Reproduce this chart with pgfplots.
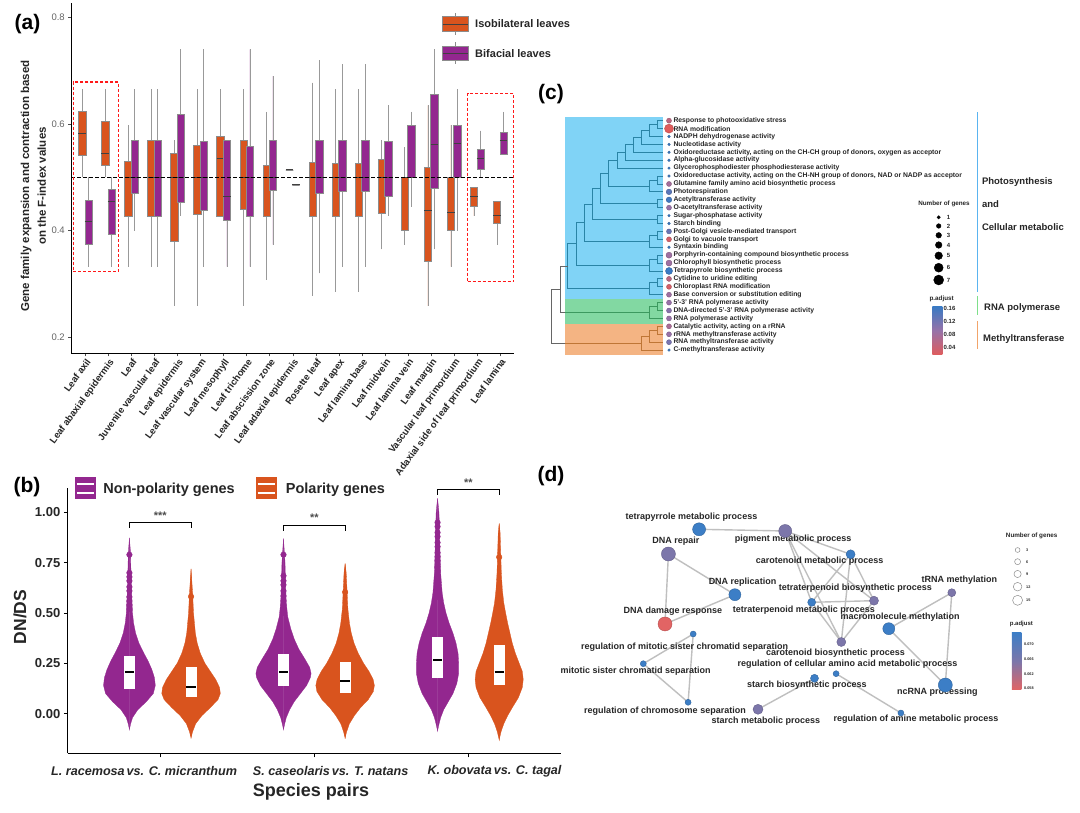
\documentclass[border=0pt]{standalone}
\usepackage{fontspec}
\setmainfont{Liberation Sans}
\usepackage{pgfplots}
\pgfplotsset{compat=1.18}
\usepackage{pgfplotstable}
\usepgfplotslibrary{statistics}
\definecolor{aor}{HTML}{D9541E}
\definecolor{apu}{HTML}{93278F}
\definecolor{cbg1}{HTML}{80D3F6}
\definecolor{cbg2}{HTML}{82D8A2}
\definecolor{cbg3}{HTML}{F4B483}
\definecolor{ct1}{HTML}{2A84A6}
\definecolor{ct2}{HTML}{3C995F}
\definecolor{ct3}{HTML}{BF7636}
\definecolor{ctg}{HTML}{666666}
\definecolor{cl1}{HTML}{5AB4F0}
\definecolor{cl2}{HTML}{7EDF8A}
\definecolor{cl3}{HTML}{F2A46A}
\definecolor{pblue}{RGB}{58,122,195}
\definecolor{ppur}{RGB}{152,114,168}
\definecolor{pred}{RGB}{224,92,92}
\definecolor{dblue}{RGB}{60,126,198}
\definecolor{dpur}{RGB}{124,118,170}
\definecolor{dred}{RGB}{226,100,100}
\definecolor{txt}{HTML}{262626}
\newcommand\fs[1]{\fontsize{#1}{#1}\selectfont}
\newcommand\bx[7]{\addplot[fill=#1, draw=black!45, line width=0.5pt,
  boxplot prepared={draw position=#2, lower whisker=#3, lower quartile=#4,
  median=#5, upper quartile=#6, upper whisker=#7, box extend=0.32, whisker extend=0},
  boxplot/every median/.style={draw=black!75, line width=1pt},
  boxplot/every whisker/.style={draw=black!40, line width=0.7pt}] coordinates {};}

\pgfplotstableread{
y w
-0.078 0
-0.05 0.008
-0.02 0.02
0.02 0.055
0.06 0.11
0.10 0.155
0.14 0.168
0.18 0.162
0.22 0.145
0.26 0.122
0.30 0.094
0.35 0.062
0.40 0.040
0.45 0.027
0.50 0.020
0.60 0.014
0.70 0.010
0.80 0.007
0.873 0
}\vA
\pgfplotstableread{
y w
-0.12 0
-0.09 0.01
-0.05 0.03
-0.01 0.07
0.03 0.125
0.07 0.175
0.10 0.19
0.13 0.185
0.17 0.16
0.21 0.125
0.25 0.09
0.30 0.06
0.35 0.04
0.40 0.028
0.50 0.016
0.60 0.01
0.72 0
}\vB
\pgfplotstableread{
y w
-0.078 0
-0.05 0.008
-0.02 0.018
0.02 0.04
0.06 0.07
0.10 0.11
0.14 0.15
0.18 0.175
0.20 0.179
0.23 0.17
0.27 0.14
0.32 0.10
0.37 0.07
0.42 0.048
0.48 0.028
0.55 0.018
0.65 0.013
0.75 0.01
0.87 0
}\vC
\pgfplotstableread{
y w
-0.12 0
-0.09 0.01
-0.05 0.028
-0.01 0.06
0.03 0.10
0.07 0.15
0.11 0.183
0.14 0.19
0.17 0.182
0.21 0.155
0.25 0.12
0.30 0.085
0.35 0.058
0.40 0.04
0.45 0.028
0.52 0.018
0.62 0.012
0.70 0.007
0.745 0
}\vD
\pgfplotstableread{
y w
-0.085 0
-0.05 0.01
-0.02 0.02
0.02 0.04
0.06 0.07
0.10 0.10
0.15 0.125
0.20 0.137
0.25 0.137
0.30 0.133
0.35 0.12
0.40 0.10
0.45 0.075
0.50 0.055
0.55 0.04
0.60 0.03
0.70 0.02
0.80 0.016
0.90 0.013
1.00 0.009
1.07 0
}\vE
\pgfplotstableread{
y w
-0.13 0
-0.09 0.012
-0.05 0.03
-0.01 0.055
0.03 0.085
0.08 0.125
0.13 0.15
0.17 0.156
0.21 0.15
0.25 0.13
0.30 0.105
0.35 0.085
0.40 0.07
0.45 0.055
0.50 0.042
0.55 0.03
0.62 0.02
0.70 0.014
0.80 0.01
0.90 0.006
0.945 0
}\vF

\begin{document}
\begin{tikzpicture}[x=1pt,y=1pt]
\useasboundingbox (0,0) rectangle (1080,813);
\fill[white] (0,0) rectangle (1080,813);

%================ PANEL A =================
\begin{axis}[
  at={(71.3pt,459.7pt)}, anchor=south west, scale only axis,
  width=442.8pt, height=350.3pt,
  xmin=-0.61, xmax=18.6, ymin=0.17, ymax=0.827, enlargelimits=false,
  axis lines*=left, axis line style={black, line width=1pt},
  xtick={0,...,18},
  xticklabels={Leaf axil, Leaf abaxial epidermis, Leaf, Juvenile vascular leaf, Leaf epidermis, Leaf vascular system, Leaf mesophyll, Leaf trichome, Leaf abscission zone, Leaf adaxial epidermis, Rosette leaf, Leaf apex, Leaf lamina base, Leaf midvein, Leaf lamina vein, Leaf margin, Vascular leaf primordium, Adaxial side of leaf primordium, Leaf lamina},
  x tick label style={rotate=54, anchor=north east, font=\bfseries\fs{9.5}, inner sep=1pt, text=txt},
  ytick={0.2,0.4,0.6,0.8}, yticklabels={0.2,0.4,0.6,0.8},
  y tick label style={font=\fs{9.5}, text=black!60},
  tick style={black!70, line width=0.6pt}, major tick length=3pt, tick align=outside,
  clip=false, boxplot/draw direction=y]
\bx{aor}{-0.14}{0.5}{0.541}{0.5825}{0.624}{0.665}
\bx{apu}{0.14}{0.3325}{0.374}{0.417}{0.4575}{0.5}
\bx{aor}{0.86}{0.5}{0.5225}{0.545}{0.606}{0.665}
\bx{apu}{1.14}{0.3325}{0.393}{0.455}{0.477}{0.5}
\bx{aor}{1.86}{0.3325}{0.4275}{0.5}{0.53}{0.598}
\bx{apu}{2.14}{0.4}{0.47}{0.5}{0.57}{0.665}
\bx{aor}{2.86}{0.3325}{0.4275}{0.5}{0.57}{0.665}
\bx{apu}{3.14}{0.3325}{0.4275}{0.5}{0.57}{0.665}
\bx{aor}{3.86}{0.259}{0.38}{0.5}{0.545}{0.57}
\bx{apu}{4.14}{0.4275}{0.454}{0.5}{0.618}{0.74}
\bx{aor}{4.86}{0.259}{0.43}{0.5}{0.56}{0.665}
\bx{apu}{5.14}{0.3325}{0.4375}{0.5}{0.568}{0.74}
\bx{aor}{5.86}{0.4275}{0.4275}{0.535}{0.5775}{0.665}
\bx{apu}{6.14}{0.3325}{0.42}{0.464}{0.57}{0.57}
\bx{aor}{6.86}{0.259}{0.44}{0.5}{0.57}{0.665}
\bx{apu}{7.14}{0.3325}{0.4275}{0.5}{0.5575}{0.74}
\bx{aor}{7.86}{0.3075}{0.4275}{0.5}{0.5225}{0.623}
\bx{apu}{8.14}{0.374}{0.475}{0.5}{0.57}{0.69}
\bx{aor}{8.86}{0.514}{0.514}{0.514}{0.514}{0.514}
\bx{apu}{9.14}{0.486}{0.486}{0.486}{0.486}{0.486}
\bx{aor}{9.86}{0.278}{0.4275}{0.5}{0.528}{0.6775}
\bx{apu}{10.14}{0.32}{0.47}{0.5}{0.57}{0.72}
\bx{aor}{10.86}{0.2856}{0.4275}{0.5}{0.526}{0.665}
\bx{apu}{11.14}{0.3325}{0.473}{0.5}{0.57}{0.7125}
\bx{aor}{11.86}{0.2856}{0.4275}{0.5}{0.526}{0.665}
\bx{apu}{12.14}{0.3325}{0.473}{0.5}{0.57}{0.7125}
\bx{aor}{12.86}{0.365}{0.4325}{0.5}{0.534}{0.57}
\bx{apu}{13.14}{0.4275}{0.464}{0.5}{0.567}{0.635}
\bx{aor}{13.86}{0.374}{0.4}{0.5}{0.5}{0.556}
\bx{apu}{14.14}{0.445}{0.5}{0.5}{0.598}{0.623}
\bx{aor}{14.86}{0.259}{0.343}{0.437}{0.519}{0.635}
\bx{apu}{15.14}{0.365}{0.479}{0.562}{0.655}{0.74}
\bx{aor}{15.86}{0.3325}{0.4}{0.434}{0.5}{0.598}
\bx{apu}{16.14}{0.4}{0.5}{0.564}{0.598}{0.665}
\bx{aor}{16.86}{0.4275}{0.446}{0.464}{0.481}{0.481}
\bx{apu}{17.14}{0.5}{0.516}{0.535}{0.5525}{0.5875}
\bx{aor}{17.86}{0.374}{0.414}{0.4275}{0.455}{0.455}
\bx{apu}{18.14}{0.543}{0.543}{0.57}{0.584}{0.623}
\addplot[black, line width=0.9pt, dash pattern=on 4pt off 2pt] coordinates {(-0.61,0.5) (18.6,0.5)};
\addplot[red!90, line width=1.2pt, dash pattern=on 3pt off 2pt] coordinates {(-0.52,0.324) (1.45,0.324) (1.45,0.679) (-0.52,0.679) (-0.52,0.324)};
\addplot[red!90, line width=1.2pt, dash pattern=on 3pt off 2pt] coordinates {(16.58,0.304) (18.57,0.304) (18.57,0.658) (16.58,0.658) (16.58,0.304)};
\end{axis}
% legend a
\draw[black!45, line width=0.6pt] (455.5,796.3) -- (455.5,799.7) (455.5,781.3) -- (455.5,778);
\filldraw[fill=aor, draw=black!45, line width=0.6pt] (442.7,781.3) rectangle (468.3,796.3);
\draw[black!75, line width=0.9pt] (442.7,789) -- (468.3,789);
\draw[black!45, line width=0.6pt] (455.5,767) -- (455.5,770.5) (455.5,752.3) -- (455.5,749);
\filldraw[fill=apu, draw=black!45, line width=0.6pt] (442.7,752.3) rectangle (468.3,767);
\draw[black!75, line width=0.9pt] (442.7,759.7) -- (468.3,759.7);
\node[anchor=west, font=\bfseries\fs{11}, text=txt] at (471.7,789) {Isobilateral leaves};
\node[anchor=west, font=\bfseries\fs{11}, text=txt] at (471.7,759.7) {Bifacial leaves};
\node[rotate=90, align=center, font=\bfseries\fontsize{11.5}{16.7}\selectfont, text=txt] at (33.4,627) {Gene family expansion and contraction based\\on the F-index values};
\node[font=\bfseries\fs{21}] at (27.5,789) {(a)};

%================ PANEL B =================
\begin{axis}[
  at={(67.8pt,59.7pt)}, anchor=south west, scale only axis,
  width=493pt, height=265pt,
  xmin=0.4, xmax=3.6, ymin=-0.197, ymax=1.12, enlargelimits=false,
  axis lines*=left, axis line style={black, line width=1.2pt},
  xtick={1,2,3}, xticklabels={,,},
  ytick={0,0.25,0.5,0.75,1}, yticklabels={0.00,0.25,0.50,0.75,1.00},
  y tick label style={font=\bfseries\fs{13}, text=txt},
  tick style={black, line width=0.8pt}, major tick length=4pt, tick align=outside,
  clip=false]
\addplot[fill=apu, draw=apu, line width=0.3pt] table[x expr=0.8-\thisrow{w}, y=y] {\vA} -- cycle;
\addplot[fill=apu, draw=apu, line width=0.3pt] table[x expr=0.8+\thisrow{w}, y=y] {\vA} -- cycle;
\addplot[fill=aor, draw=aor, line width=0.3pt] table[x expr=1.2-\thisrow{w}, y=y] {\vB} -- cycle;
\addplot[fill=aor, draw=aor, line width=0.3pt] table[x expr=1.2+\thisrow{w}, y=y] {\vB} -- cycle;
\addplot[fill=apu, draw=apu, line width=0.3pt] table[x expr=1.8-\thisrow{w}, y=y] {\vC} -- cycle;
\addplot[fill=apu, draw=apu, line width=0.3pt] table[x expr=1.8+\thisrow{w}, y=y] {\vC} -- cycle;
\addplot[fill=aor, draw=aor, line width=0.3pt] table[x expr=2.2-\thisrow{w}, y=y] {\vD} -- cycle;
\addplot[fill=aor, draw=aor, line width=0.3pt] table[x expr=2.2+\thisrow{w}, y=y] {\vD} -- cycle;
\addplot[fill=apu, draw=apu, line width=0.3pt] table[x expr=2.8-\thisrow{w}, y=y] {\vE} -- cycle;
\addplot[fill=apu, draw=apu, line width=0.3pt] table[x expr=2.8+\thisrow{w}, y=y] {\vE} -- cycle;
\addplot[fill=aor, draw=aor, line width=0.3pt] table[x expr=3.2-\thisrow{w}, y=y] {\vF} -- cycle;
\addplot[fill=aor, draw=aor, line width=0.3pt] table[x expr=3.2+\thisrow{w}, y=y] {\vF} -- cycle;
\addplot[only marks, mark=*, mark size=2.8pt, color=apu] coordinates {(0.8,0.52) (0.8,0.54) (0.8,0.56) (0.8,0.58) (0.8,0.61) (0.8,0.63) (0.8,0.66) (0.8,0.68) (0.8,0.70) (0.8,0.79)};
\addplot[only marks, mark=*, mark size=2.8pt, color=aor] coordinates {(1.2,0.582)};
\addplot[only marks, mark=*, mark size=2.8pt, color=apu] coordinates {(1.8,0.50) (1.8,0.52) (1.8,0.54) (1.8,0.56) (1.8,0.585) (1.8,0.61) (1.8,0.64) (1.8,0.66) (1.8,0.685) (1.8,0.79)};
\addplot[only marks, mark=*, mark size=2.8pt, color=aor] coordinates {(2.2,0.604)};
\addplot[only marks, mark=*, mark size=2.8pt, color=apu] coordinates {(2.8,0.58) (2.8,0.60) (2.8,0.62) (2.8,0.64) (2.8,0.66) (2.8,0.69) (2.8,0.71) (2.8,0.73) (2.8,0.76) (2.8,0.78) (2.8,0.80) (2.8,0.83) (2.8,0.85) (2.8,0.88) (2.8,0.90) (2.8,0.93) (2.8,0.95)};
\addplot[only marks, mark=*, mark size=2.8pt, color=aor] coordinates {(3.2,0.635) (3.2,0.778)};
\addplot[fill=white, draw=none] coordinates {(0.764,0.124) (0.836,0.124) (0.836,0.287) (0.764,0.287)} -- cycle;
\addplot[fill=white, draw=none] coordinates {(1.164,0.085) (1.236,0.085) (1.236,0.231) (1.164,0.231)} -- cycle;
\addplot[fill=white, draw=none] coordinates {(1.764,0.138) (1.836,0.138) (1.836,0.297) (1.764,0.297)} -- cycle;
\addplot[fill=white, draw=none] coordinates {(2.164,0.101) (2.236,0.101) (2.236,0.259) (2.164,0.259)} -- cycle;
\addplot[fill=white, draw=none] coordinates {(2.764,0.178) (2.836,0.178) (2.836,0.382) (2.764,0.382)} -- cycle;
\addplot[fill=white, draw=none] coordinates {(3.164,0.141) (3.236,0.141) (3.236,0.34) (3.164,0.34)} -- cycle;
\addplot[black, line width=2pt] coordinates {(0.77,0.206) (0.83,0.206)};
\addplot[black, line width=2pt] coordinates {(1.17,0.133) (1.23,0.133)};
\addplot[black, line width=2pt] coordinates {(1.77,0.207) (1.83,0.207)};
\addplot[black, line width=2pt] coordinates {(2.17,0.164) (2.23,0.164)};
\addplot[black, line width=2pt] coordinates {(2.77,0.269) (2.83,0.269)};
\addplot[black, line width=2pt] coordinates {(3.17,0.207) (3.23,0.207)};
\addplot[black, line width=0.9pt] coordinates {(0.8,0.925) (0.8,0.95) (1.2,0.95) (1.2,0.925)};
\addplot[black, line width=0.9pt] coordinates {(1.8,0.91) (1.8,0.937) (2.2,0.937) (2.2,0.91)};
\addplot[black, line width=0.9pt] coordinates {(2.8,1.088) (2.8,1.113) (3.2,1.113) (3.2,1.088)};
\node[font=\bfseries\fs{11}, text=black!70] at (axis cs:1.0,0.985) {***};
\node[font=\bfseries\fs{11}, text=black!70] at (axis cs:2.0,0.972) {**};
\node[font=\bfseries\fs{11}, text=black!70] at (axis cs:3.0,1.148) {**};
\end{axis}
% legend b and labels
\fill[apu] (74.7,313.7) rectangle (96.4,335.7);
\draw[white, line width=1.7pt] (76.8,329.2) -- (94.3,329.2) (76.8,320.2) -- (94.3,320.2);
\node[anchor=west, font=\bfseries\fs{14.5}, text=txt] at (99.9,323) {Non-polarity genes};
\fill[aor] (255.5,313.7) rectangle (277.2,335.7);
\draw[white, line width=1.7pt] (257.6,329.2) -- (275.1,329.2) (257.6,320.2) -- (275.1,320.2);
\node[anchor=west, font=\bfseries\fs{14.5}, text=txt] at (282.4,323) {Polarity genes};
\node[rotate=90, font=\bfseries\fs{17.5}, text=txt] at (20,196) {DN/DS};
\node[anchor=west, inner sep=0pt, font=\bfseries\itshape\fs{12.6}, text=txt] at (51,42) {L. racemosa\hspace{0.15em}vs. C. micranthum};
\node[anchor=west, inner sep=0pt, font=\bfseries\itshape\fs{12.6}, text=txt] at (252.7,42) {S. caseolaris\hspace{0.15em}vs. T. natans};
\node[anchor=west, inner sep=0pt, font=\bfseries\itshape\fs{12.6}, text=txt] at (427.3,42) {K. obovata\hspace{0.15em}vs. C. tagal};
\node[font=\bfseries\fs{18}, text=txt] at (311,21.3) {Species pairs};
\node[font=\bfseries\fs{21}] at (27,326) {(b)};

%================ PANEL C =================
\begin{axis}[
  at={(540pt,433pt)}, anchor=south west, scale only axis,
  width=540pt, height=300pt, hide axis, enlargelimits=false,
  xmin=540, xmax=1080, ymin=80, ymax=380, y dir=reverse, clip=false,
  colormap={padj}{rgb255=(224,92,92) rgb255=(152,114,168) rgb255=(58,122,195)},
  point meta min=0.04, point meta max=0.16]
\addplot[fill=cbg1, draw=none] coordinates {(565,117.3) (662.5,117.3) (662.5,299.3) (565,299.3)} -- cycle;
\addplot[fill=cbg2, draw=none] coordinates {(565,299.3) (662.5,299.3) (662.5,324) (565,324)} -- cycle;
\addplot[fill=cbg3, draw=none] coordinates {(565,324) (662.5,324) (662.5,355.3) (565,355.3)} -- cycle;
\addplot[ct1, line width=0.9pt] coordinates {(663,120.70) (657.5,120.70) (657.5,128.61) (663,128.61)};
\addplot[ct1, line width=0.9pt] coordinates {(657.5,124.66) (649.5,124.66) (649.5,136.52) (663,136.52)};
\addplot[ct1, line width=0.9pt] coordinates {(649.5,130.59) (641.5,130.59) (641.5,144.43) (663,144.43)};
\addplot[ct1, line width=0.9pt] coordinates {(641.5,137.51) (633.3,137.51) (633.3,152.34) (663,152.34)};
\addplot[ct1, line width=0.9pt] coordinates {(633.3,144.93) (625.2,144.93) (625.2,160.25) (663,160.25)};
\addplot[ct1, line width=0.9pt] coordinates {(625.2,152.59) (617,152.59) (617,168.16) (663,168.16)};
\addplot[ct1, line width=0.9pt] coordinates {(663,176.07) (657.5,176.07) (657.5,183.98) (663,183.98)};
\addplot[ct1, line width=0.9pt] coordinates {(657.5,180.03) (649.5,180.03) (649.5,191.89) (663,191.89)};
\addplot[ct1, line width=0.9pt] coordinates {(617,160.38) (608.7,160.38) (608.7,185.96) (649.5,185.96)};
\addplot[ct1, line width=0.9pt] coordinates {(663,199.80) (657.5,199.80) (657.5,207.71) (663,207.71)};
\addplot[ct1, line width=0.9pt] coordinates {(608.7,173.17) (600.3,173.17) (600.3,203.76) (657.5,203.76)};
\addplot[ct1, line width=0.9pt] coordinates {(663,215.62) (657.5,215.62) (657.5,223.53) (663,223.53)};
\addplot[ct1, line width=0.9pt] coordinates {(600.3,188.46) (592.2,188.46) (592.2,219.58) (657.5,219.58)};
\addplot[ct1, line width=0.9pt] coordinates {(663,231.44) (657.5,231.44) (657.5,239.35) (663,239.35)};
\addplot[ct1, line width=0.9pt] coordinates {(657.5,235.40) (649.5,235.40) (649.5,247.26) (663,247.26)};
\addplot[ct1, line width=0.9pt] coordinates {(592.2,204.02) (584.6,204.02) (584.6,241.33) (649.5,241.33)};
\addplot[ct1, line width=0.9pt] coordinates {(663,255.17) (657.5,255.17) (657.5,263.08) (663,263.08)};
\addplot[ct1, line width=0.9pt] coordinates {(657.5,259.13) (649.5,259.13) (649.5,270.99) (663,270.99)};
\addplot[ct1, line width=0.9pt] coordinates {(584.6,222.67) (576.3,222.67) (576.3,265.06) (649.5,265.06)};
\addplot[ct1, line width=0.9pt] coordinates {(663,278.90) (657.5,278.90) (657.5,286.81) (663,286.81)};
\addplot[ct1, line width=0.9pt] coordinates {(657.5,282.86) (649.5,282.86) (649.5,294.72) (663,294.72)};
\addplot[ct1, line width=0.9pt] coordinates {(576.3,243.87) (567.5,243.87) (567.5,288.79) (649.5,288.79)};
\addplot[ct2, line width=0.9pt] coordinates {(663,302.63) (657.5,302.63) (657.5,310.54) (663,310.54)};
\addplot[ct2, line width=0.9pt] coordinates {(657.5,306.59) (649.5,306.59) (649.5,318.45) (663,318.45)};
\addplot[ct3, line width=0.9pt] coordinates {(663,326.36) (657.5,326.36) (657.5,334.27) (663,334.27)};
\addplot[ct3, line width=0.9pt] coordinates {(657.5,330.32) (649.5,330.32) (649.5,342.18) (663,342.18)};
\addplot[ct3, line width=0.9pt] coordinates {(649.5,336.25) (641.5,336.25) (641.5,350.09) (663,350.09)};
\addplot[ctg, line width=0.9pt] coordinates {(567.5,266.33) (560,266.33) (560,312.52) (565,312.52)};
\addplot[ct2, line width=0.9pt] coordinates {(565,312.52) (649.5,312.52)};
\addplot[ctg, line width=0.9pt] coordinates {(560,289.43) (551.7,289.43) (551.7,343.17) (565,343.17)};
\addplot[ct3, line width=0.9pt] coordinates {(565,343.17) (641.5,343.17)};
\addplot[scatter, only marks, mark=*, scatter src=explicit,
  visualization depends on={\thisrow{r} \as \rr},
  scatter/@pre marker code/.append style={/tikz/mark size=\rr}]
  table[x=x, y=y, meta=p] {
x y r p
669 120.70 2.5 0.07
669 128.61 4.5 0.04
669 136.52 1.3 0.16
669 144.43 1.3 0.16
669 152.34 1.3 0.16
669 160.25 1.3 0.16
669 168.16 1.3 0.16
669 176.07 1.3 0.16
669 183.98 2.5 0.09
669 191.89 2.8 0.14
669 199.80 2.8 0.155
669 207.71 2.5 0.10
669 215.62 1.3 0.16
669 223.53 1.3 0.16
669 231.44 2.5 0.13
669 239.35 2.5 0.05
669 247.26 1.3 0.16
669 255.17 3.0 0.095
669 263.08 3.0 0.095
669 270.99 3.5 0.16
669 278.90 2.5 0.07
669 286.81 2.5 0.05
669 294.72 2.5 0.095
669 302.63 2.5 0.10
669 310.54 2.5 0.11
669 318.45 2.5 0.10
669 326.36 2.5 0.085
669 334.27 2.5 0.10
669 342.18 2.5 0.12
669 350.09 1.3 0.16
};
\addplot[only marks, mark=*, black, mark size=1.7pt] coordinates {(938.7,217.3)};
\addplot[only marks, mark=*, black, mark size=2.3pt] coordinates {(938.7,226.0)};
\addplot[only marks, mark=*, black, mark size=2.8pt] coordinates {(938.7,235.3)};
\addplot[only marks, mark=*, black, mark size=3.3pt] coordinates {(938.7,245.0)};
\addplot[only marks, mark=*, black, mark size=3.8pt] coordinates {(938.7,255.7)};
\addplot[only marks, mark=*, black, mark size=4.5pt] coordinates {(938.7,267.7)};
\addplot[only marks, mark=*, black, mark size=5.0pt] coordinates {(938.7,280.0)};
\begin{scope}[every node/.style={anchor=west, font=\bfseries\fs{6.8}, text=txt, inner sep=0pt}]
\node at (axis cs:673.3,120.70) {Response to photooxidative stress};
\node at (axis cs:673.3,128.61) {RNA modification};
\node at (axis cs:673.3,136.52) {NADPH dehydrogenase activity};
\node at (axis cs:673.3,144.43) {Nucleotidase activity};
\node at (axis cs:673.3,152.34) {Oxidoreductase activity, acting on the CH-CH group of donors, oxygen as acceptor};
\node at (axis cs:673.3,160.25) {Alpha-glucosidase activity};
\node at (axis cs:673.3,168.16) {Glycerophosphodiester phosphodiesterase activity};
\node at (axis cs:673.3,176.07) {Oxidoreductase activity, acting on the CH-NH group of donors, NAD or NADP as acceptor};
\node at (axis cs:673.3,183.98) {Glutamine family amino acid biosynthetic process};
\node at (axis cs:673.3,191.89) {Photorespiration};
\node at (axis cs:673.3,199.80) {Acetyltransferase activity};
\node at (axis cs:673.3,207.71) {O-acetyltransferase activity};
\node at (axis cs:673.3,215.62) {Sugar-phosphatase activity};
\node at (axis cs:673.3,223.53) {Starch binding};
\node at (axis cs:673.3,231.44) {Post-Golgi vesicle-mediated transport};
\node at (axis cs:673.3,239.35) {Golgi to vacuole transport};
\node at (axis cs:673.3,247.26) {Syntaxin binding};
\node at (axis cs:673.3,255.17) {Porphyrin-containing compound biosynthetic process};
\node at (axis cs:673.3,263.08) {Chlorophyll biosynthetic process};
\node at (axis cs:673.3,270.99) {Tetrapyrrole biosynthetic process};
\node at (axis cs:673.3,278.90) {Cytidine to uridine editing};
\node at (axis cs:673.3,286.81) {Chloroplast RNA modification};
\node at (axis cs:673.3,294.72) {Base conversion or substitution editing};
\node at (axis cs:673.3,302.63) {5'-3' RNA polymerase activity};
\node at (axis cs:673.3,310.54) {DNA-directed 5'-3' RNA polymerase activity};
\node at (axis cs:673.3,318.45) {RNA polymerase activity};
\node at (axis cs:673.3,326.36) {Catalytic activity, acting on a rRNA};
\node at (axis cs:673.3,334.27) {rRNA methyltransferase activity};
\node at (axis cs:673.3,342.18) {RNA methyltransferase activity};
\node at (axis cs:673.3,350.09) {C-methyltransferase activity};
\end{scope}
\begin{scope}[every node/.style={anchor=west, font=\bfseries\fs{6}, text=txt, inner sep=0pt}]
\node at (axis cs:946.7,217.3) {1};
\node at (axis cs:946.7,226.0) {2};
\node at (axis cs:946.7,235.3) {3};
\node at (axis cs:946.7,245.0) {4};
\node at (axis cs:946.7,255.7) {5};
\node at (axis cs:946.7,267.7) {6};
\node at (axis cs:946.7,280.0) {7};
\node at (axis cs:943.5,308.3) {0.16};
\node at (axis cs:943.5,321.0) {0.12};
\node at (axis cs:943.5,334.0) {0.08};
\node at (axis cs:943.5,347.3) {0.04};
\end{scope}
\node[font=\bfseries\fs{6.3}, text=txt] at (axis cs:944,204.3) {Number of genes};
\node[font=\bfseries\fs{6.3}, text=txt] at (axis cs:941.7,299.3) {p.adjust};
\addplot[cl1, line width=1.6pt] coordinates {(977.3,112.3) (977.3,291.7)};
\addplot[cl2, line width=1.6pt] coordinates {(977.3,296) (977.3,315)};
\addplot[cl3, line width=1.6pt] coordinates {(977.3,321.3) (977.3,349.3)};
\begin{scope}[every node/.style={anchor=west, font=\bfseries\fs{9.5}, text=txt, inner sep=0pt}]
\node at (axis cs:981.8,181.7) {Photosynthesis};
\node at (axis cs:981.8,204.3) {and};
\node at (axis cs:981.8,226.7) {Cellular metabolic};
\node at (axis cs:984,308.3) {RNA polymerase};
\node at (axis cs:983,338.7) {Methyltransferase};
\end{scope}
\end{axis}
\shade[top color=pblue, bottom color=pred, middle color=ppur] (932.3,458) rectangle (942.3,506.3);
\node[font=\bfseries\fs{21}] at (551,719) {(c)};

%================ PANEL D =================
\begin{axis}[
  at={(540pt,0pt)}, anchor=south west, scale only axis,
  width=540pt, height=353pt, hide axis, enlargelimits=false,
  xmin=540, xmax=1080, ymin=460, ymax=813, y dir=reverse, clip=false,
  colormap={dmap}{rgb255=(226,100,100) rgb255=(124,118,170) rgb255=(60,126,198)},
  point meta min=0.058, point meta max=0.074]
\addplot[black!25, line width=1.4pt] coordinates {(699.1,529.3) (785.2,531.0)};
\addplot[black!25, line width=1.4pt] coordinates {(668.4,554.0) (665.0,624.0)};
\addplot[black!25, line width=1.4pt] coordinates {(668.4,554.0) (734.9,594.7)};
\addplot[black!25, line width=1.4pt] coordinates {(734.9,594.7) (665.0,624.0)};
\addplot[black!25, line width=1.4pt] coordinates {(785.2,531.0) (850.6,554.3)};
\addplot[black!25, line width=1.4pt] coordinates {(785.2,531.0) (874.0,600.7)};
\addplot[black!25, line width=1.4pt] coordinates {(785.2,531.0) (811.7,602.3)};
\addplot[black!25, line width=1.4pt] coordinates {(785.2,531.0) (841.3,642.0)};
\addplot[black!25, line width=1.4pt] coordinates {(850.6,554.3) (811.7,602.3)};
\addplot[black!25, line width=1.4pt] coordinates {(850.6,554.3) (841.3,642.0)};
\addplot[black!25, line width=1.4pt] coordinates {(850.6,554.3) (874.0,600.7)};
\addplot[black!25, line width=1.4pt] coordinates {(811.7,602.3) (874.0,600.7)};
\addplot[black!25, line width=1.4pt] coordinates {(811.7,602.3) (841.3,642.0)};
\addplot[black!25, line width=1.4pt] coordinates {(874.0,600.7) (841.3,642.0)};
\addplot[black!25, line width=1.4pt] coordinates {(951.8,592.7) (888.8,628.7)};
\addplot[black!25, line width=1.4pt] coordinates {(951.8,592.7) (945.3,685.0)};
\addplot[black!25, line width=1.4pt] coordinates {(888.8,628.7) (945.3,685.0)};
\addplot[black!25, line width=1.4pt] coordinates {(693.2,634.0) (643.3,663.7)};
\addplot[black!25, line width=1.4pt] coordinates {(693.2,634.0) (688.1,702.3)};
\addplot[black!25, line width=1.4pt] coordinates {(643.3,663.7) (688.1,702.3)};
\addplot[black!25, line width=1.4pt] coordinates {(814.5,678.3) (758.0,709.3)};
\addplot[black!25, line width=1.4pt] coordinates {(836.1,673.7) (900.9,713.0)};
\addplot[scatter, only marks, mark=*, scatter src=explicit,
  visualization depends on={\thisrow{r} \as \rr},
  scatter/@pre marker code/.append style={/tikz/mark size=\rr}]
  table[x=x, y=y, meta=p] {
x y r p
699.1 529.3 6.5 0.074
785.2 531.0 6.5 0.066
668.4 554.0 7.0 0.066
850.6 554.3 4.5 0.074
734.9 594.7 6.0 0.074
951.8 592.7 4.0 0.066
874.0 600.7 4.5 0.066
811.7 602.3 4.0 0.074
665.0 624.0 7.0 0.058
888.8 628.7 6.0 0.074
693.2 634.0 3.0 0.074
841.3 642.0 4.5 0.066
836.1 673.7 3.0 0.074
643.3 663.7 3.0 0.074
814.5 678.3 4.0 0.074
945.3 685.0 7.0 0.074
688.1 702.3 3.0 0.074
758.0 709.3 5.0 0.066
900.9 713.0 3.0 0.074
};
\addplot[only marks, mark=o, black!45, line width=0.5pt, mark size=2.4pt] coordinates {(1017.6,550.0)};
\addplot[only marks, mark=o, black!45, line width=0.5pt, mark size=3.0pt] coordinates {(1017.6,561.7)};
\addplot[only marks, mark=o, black!45, line width=0.5pt, mark size=3.6pt] coordinates {(1017.6,574.0)};
\addplot[only marks, mark=o, black!45, line width=0.5pt, mark size=4.3pt] coordinates {(1017.6,586.7)};
\addplot[only marks, mark=o, black!45, line width=0.5pt, mark size=5.0pt] coordinates {(1017.6,600.3)};
\begin{scope}[every node/.style={font=\bfseries\fs{9}, text=txt, inner sep=0pt}]
\node at (axis cs:691.5,517.3) {tetrapyrrole metabolic process};
\node at (axis cs:793.1,538.7) {pigment metabolic process};
\node at (axis cs:676,541) {DNA repair};
\node at (axis cs:819.6,561) {carotenoid metabolic process};
\node at (axis cs:742.5,582) {DNA replication};
\node at (axis cs:959.4,580.3) {tRNA methylation};
\node at (axis cs:855.4,588) {tetraterpenoid biosynthetic process};
\node at (axis cs:803.8,610) {tetraterpenoid metabolic process};
\node at (axis cs:672.9,611.3) {DNA damage response};
\node at (axis cs:900.2,616.7) {macromolecule methylation};
\node at (axis cs:684.6,646.7) {regulation of mitotic sister chromatid separation};
\node at (axis cs:835.5,653.3) {carotenoid biosynthetic process};
\node at (axis cs:847.5,663.7) {regulation of cellular amino acid metabolic process};
\node at (axis cs:635.7,670.7) {mitotic sister chromatid separation};
\node at (axis cs:806.9,685.3) {starch biosynthetic process};
\node at (axis cs:937.4,692.3) {ncRNA processing};
\node at (axis cs:665,711) {regulation of chromosome separation};
\node at (axis cs:765.9,721.3) {starch metabolic process};
\node at (axis cs:916,718.7) {regulation of amine metabolic process};
\end{scope}
\node[font=\bfseries\fs{6.3}, text=txt] at (axis cs:1031.7,536) {Number of genes};
\node[font=\bfseries\fs{6}, text=txt] at (axis cs:1021.4,624) {p.adjust};
\begin{scope}[every node/.style={anchor=west, font=\bfseries\fs{3.8}, text=txt, inner sep=0pt}]
\node at (axis cs:1026,550) {3};
\node at (axis cs:1026,561.7) {6};
\node at (axis cs:1026,574) {9};
\node at (axis cs:1026,586.7) {12};
\node at (axis cs:1026,600.3) {15};
\node at (axis cs:1024,644.3) {0.070};
\node at (axis cs:1024,659.3) {0.066};
\node at (axis cs:1024,673.7) {0.062};
\node at (axis cs:1024,688.3) {0.058};
\end{scope}
\end{axis}
\shade[top color=dblue, bottom color=dred, middle color=dpur] (1011.8,123) rectangle (1021.4,180.3);
\node[font=\bfseries\fs{21}] at (551,337) {(d)};
\end{tikzpicture}
\end{document}
